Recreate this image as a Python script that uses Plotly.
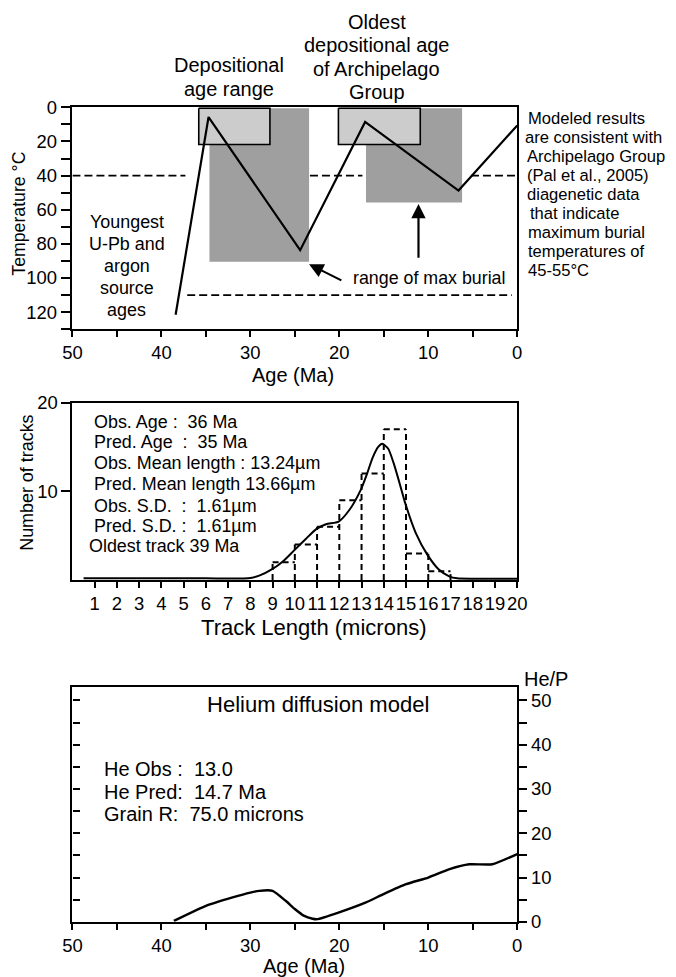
import plotly.graph_objects as go

# The captured picture is a slightly larger page scaled down to 676x977, and the
# body keeps its default 8px margin.  Positions below are in picture pixels and
# are mapped to figure coordinates with this measured transform.
SX, SY = 676 / 695.0, 977 / 997.0
OFF_X, OFF_Y = 10.2, 10.8
W, H = 677, 979
FS = 2 / (SX + SY)
FONT = "Arial, Liberation Sans, sans-serif"

# ---------------- data: thermal history (top panel) ----------------
age_ticks = [50, 45, 40, 35, 30, 25, 20, 15, 10, 5, 0]
age_ticklabels = ["50", "", "40", "", "30", "", "20", "", "10", "", "0"]
temp_ticks = [0, 10, 20, 30, 40, 50, 60, 70, 80, 90, 100, 110, 120, 130]
temp_ticklabels = ["0", "", "20", "", "40", "", "60", "", "80", "", "100", "", "120", ""]

dep_box_age = [35.8, 27.8]
dep_box_temp = [0.5, 21.8]
old_box_age = [20.1, 10.9]
old_box_temp = [0.5, 21.8]
burial1_age = [34.6, 23.4]
burial1_temp = [0.5, 90.4]
burial2_age = [17.0, 6.2]
burial2_temp = [0.5, 55.7]

path_age = [38.4, 34.7, 24.4, 17.1, 6.6, 0.0]
path_temp = [121.5, 5.7, 83.7, 8.6, 48.8, 10.6]

dash40_segments = [[50.0, 37.3], [23.3, 17.4], [5.2, 0.0]]
dash40_temp = 40
dash110_segment = [37.1, 0.6]
dash110_temp = 110

# ---------------- data: track length histogram (middle panel) ----------------
bin_left = [9, 10, 11, 12, 13, 14, 15, 16]
bin_counts = [2, 4, 6, 9, 12, 17, 3, 1]
len_ticks = list(range(1, 21))
len_ticklabels = [str(v) for v in len_ticks]
count_ticks = [10, 20]
count_ticklabels = ["10", "20"]

pred_len = [0.5, 2, 4, 6, 7.9, 8.4, 9.0, 9.46, 9.97, 10.48, 10.96, 11.4, 11.97,
            12.45, 12.97, 13.25, 13.5, 13.75, 13.93, 14.2, 14.44, 14.7, 14.96,
            15.44, 15.95, 16.45, 16.94, 17.3, 18, 19, 20]
pred_count = [0.2, 0.2, 0.2, 0.2, 0.2, 0.5, 1.26, 2.1, 3.35, 4.6, 5.75, 6.3, 6.6,
              7.9, 10.2, 12.0, 13.8, 15.0, 15.35, 14.8, 13.2, 11.0, 8.7,
              5.3, 2.9, 1.26, 0.43, 0.2, 0.15, 0.15, 0.15]

# ---------------- data: helium diffusion (bottom panel) ----------------
he_age = [38.6, 35.0, 32.0, 30.0, 29.0, 27.5, 26.0, 25.0, 24.0, 23.0, 22.5,
          20.1, 17.0, 15.1, 12.5, 10.0, 7.6, 5.4, 2.8, 0.0]
he_val = [0.2, 3.6, 5.5, 6.6, 7.0, 7.0, 4.7, 2.9, 1.4, 0.7, 0.6,
          2.1, 4.4, 6.2, 8.5, 10.0, 11.9, 13.0, 13.0, 15.3]
hep_ticks = [0, 5, 10, 15, 20, 25, 30, 35, 40, 45, 50]
hep_ticklabels = ["0", "", "10", "", "20", "", "30", "", "40", "", "50"]

# ---------------- layout geometry (picture pixels -> paper) ----------------
def px(t):
    return (t / SX - OFF_X) / W
def py(t):
    return 1 - (t / SY - OFF_Y) / H
def sz(v):
    return v * FS

XDOM = [px(72.5), px(518.3)]
def ydom(top_px, bot_px):
    return [py(bot_px), py(top_px)]

fig = go.Figure()

def box(ages, temps, fill, lw, lc):
    fig.add_trace(go.Scatter(
        x=[ages[0], ages[1], ages[1], ages[0], ages[0]],
        y=[temps[0], temps[0], temps[1], temps[1], temps[0]],
        mode="lines", fill="toself", fillcolor=fill,
        line=dict(color=lc, width=lw), xaxis="x", yaxis="y",
        hoverinfo="skip", showlegend=False))

DARK = "#9e9f9e"
LIGHT = "#cbcccb"
box(burial1_age, burial1_temp, DARK, 0, DARK)
box(burial2_age, burial2_temp, DARK, 0, DARK)
box(dep_box_age, dep_box_temp, LIGHT, 1.6, "black")
box(old_box_age, old_box_temp, LIGHT, 1.6, "black")

DASH_TOP = dict(color="black", width=1.6, dash="8px,4px")
for seg in dash40_segments:
    fig.add_trace(go.Scatter(x=seg, y=[dash40_temp, dash40_temp], mode="lines", line=DASH_TOP,
                             xaxis="x", yaxis="y", showlegend=False, hoverinfo="skip"))
fig.add_trace(go.Scatter(x=dash110_segment, y=[dash110_temp, dash110_temp], mode="lines",
                         line=DASH_TOP, xaxis="x", yaxis="y", showlegend=False, hoverinfo="skip"))

fig.add_trace(go.Scatter(x=path_age, y=path_temp, mode="lines",
                         line=dict(color="black", width=2.2),
                         xaxis="x", yaxis="y", showlegend=False))

# histogram outlines (dashed): tops and shared vertical edges drawn once
DASH_H = dict(color="black", width=2, dash="6px,4px")
edges = bin_left + [bin_left[-1] + 1]
for i, e in enumerate(edges):
    left_h = bin_counts[i - 1] if i > 0 else 0
    right_h = bin_counts[i] if i < len(bin_counts) else 0
    fig.add_trace(go.Scatter(x=[e, e], y=[0, max(left_h, right_h)], mode="lines", line=DASH_H,
                             xaxis="x2", yaxis="y2", showlegend=False, hoverinfo="skip"))
for left, c in zip(bin_left, bin_counts):
    fig.add_trace(go.Scatter(x=[left, left + 1], y=[c, c], mode="lines", line=DASH_H,
                             xaxis="x2", yaxis="y2", showlegend=False, hoverinfo="skip"))
fig.add_trace(go.Scatter(x=pred_len, y=pred_count, mode="lines",
                         line=dict(color="black", width=2, shape="spline", smoothing=0.6),
                         xaxis="x2", yaxis="y2", showlegend=False))

# helium
fig.add_trace(go.Scatter(x=he_age, y=he_val, mode="lines",
                         line=dict(color="black", width=2.4, shape="spline", smoothing=0.5),
                         xaxis="x3", yaxis="y3", showlegend=False))
fig.add_trace(go.Scatter(x=he_age, y=he_val, mode="lines", opacity=0,
                         line=dict(color="black", width=0),
                         xaxis="x3", yaxis="y4", showlegend=False, hoverinfo="skip"))

tickfont = dict(family=FONT, size=sz(18), color="black")
common = dict(showgrid=False, zeroline=False, showline=True, linecolor="black",
              tickcolor="black", tickfont=tickfont, tickangle=0)

fig.update_layout(
    width=W, height=H, autosize=False,
    margin=dict(l=0, r=0, t=0, b=0, pad=0),
    paper_bgcolor="white", plot_bgcolor="white",
    showlegend=False,
    xaxis=dict(domain=XDOM, anchor="y", range=[50, 0], tickmode="array",
               tickvals=age_ticks, ticktext=age_ticklabels, ticks="outside",
               ticklen=6, tickwidth=1.6, linewidth=1.6, mirror=True, **common),
    yaxis=dict(domain=ydom(107, 329.3), anchor="x", range=[130, 0], tickmode="array",
               tickvals=temp_ticks, ticktext=temp_ticklabels, ticks="outside",
               ticklen=10, tickwidth=1.6, linewidth=1.6, mirror=True, **common),
    xaxis2=dict(domain=XDOM, anchor="y2", range=[0, 20], tickmode="array",
                tickvals=len_ticks, ticktext=len_ticklabels, ticks="outside",
                ticklen=6, tickwidth=2, linewidth=2.2, mirror=True, **common),
    yaxis2=dict(domain=ydom(402.7, 580.5), anchor="x2", range=[0, 20], tickmode="array",
                tickvals=count_ticks, ticktext=count_ticklabels, ticks="outside",
                ticklen=9, tickwidth=2, linewidth=2.2, mirror=True, **common),
    xaxis3=dict(domain=XDOM, anchor="y3", range=[50, 0], tickmode="array",
                tickvals=age_ticks, ticktext=age_ticklabels, ticks="outside",
                ticklen=6, tickwidth=2, linewidth=2.2, mirror=True, **common),
    yaxis3=dict(domain=ydom(687.7, 922.7), anchor="x3", range=[0, 53], tickmode="array",
                tickvals=hep_ticks, showticklabels=False, ticks="inside",
                ticklen=7, tickwidth=2, linewidth=2.2, **common),
    yaxis4=dict(overlaying="y3", anchor="x3", side="right", range=[0, 53], tickmode="array",
                tickvals=hep_ticks, ticktext=hep_ticklabels, ticks="outside",
                ticklen=8, tickwidth=2, linewidth=2.2, **common),
)

ann = []
def txt(s, xpx, ypx, size, xanchor="center", angle=0):
    ann.append(dict(text=s, x=px(xpx), y=py(ypx), xref="paper", yref="paper",
                    xanchor=xanchor, yanchor="middle", showarrow=False, textangle=angle,
                    font=dict(family=FONT, size=sz(size), color="black")))

NB = "\u00a0"
# top panel texts
txt("Depositional", 229, 65, 19.5)
txt("age range", 229, 88.3, 19.5)
for i, s in enumerate(["Oldest", "depositional age", "of Archipelago", "Group"]):
    txt(s, 377.5, 21.7 + 23.3 * i, 19.5)
for i, s in enumerate(["Youngest", "U-Pb and", "argon", "source", "ages"]):
    txt(s, 126.7, 222 + 22 * i, 17.5)
right_lines = ["Modeled results", "are consistent with", "Archipelago Group",
               "(Pal et al., 2005)", "diagenetic data", "that indicate",
               "maximum burial", "temperatures of", "45-55°C"]
right_x = [527, 524, 526, 526.5, 526.5, 529, 527.5, 527.5, 527.5]
for i, s in enumerate(right_lines):
    txt(s, right_x[i], 118.5 + 19 * i, 16.2, xanchor="left")
txt("range of max burial", 351.7, 278.3, 17.4, xanchor="left")
txt("Temperature" + NB + "°C", 19, 213.5, 17.3, angle=-90)
txt("Age (Ma)", 293.5, 375, 19.5)

# middle panel texts
mid_lines = ["Obs. Age :" + NB * 2 + "36 Ma", "Pred. Age" + NB * 2 + ":" + NB * 2 + "35 Ma",
             "Obs. Mean length : 13.24µm", "Pred. Mean length 13.66µm",
             "Obs. S.D." + NB * 2 + ":" + NB * 2 + "1.61µm", "Pred. S.D. :" + NB * 2 + "1.61µm",
             "Oldest track 39 Ma"]
mid_y = [421.7, 442.3, 463.3, 484, 506, 526.7, 546.7]
mid_x = [91.7, 91.7, 91.7, 91.7, 91.7, 91.7, 87.3]
for s, xx, yy in zip(mid_lines, mid_x, mid_y):
    txt(s, xx, yy, 17.5, xanchor="left")
txt("Number of tracks", 26.7, 483.3, 17.5, angle=-90)
txt("Track Length (microns)", 315, 628.3, 21.5)

# bottom panel texts
txt("Helium diffusion model", 319, 705, 21.5)
he_lines = ["He Obs :" + NB * 2 + "13.0", "He Pred:" + NB * 2 + "14.7 Ma",
            "Grain R:" + NB * 2 + "75.0 microns"]
for i, s in enumerate(he_lines):
    txt(s, 102.3, 770 + 22.2 * i, 19.5, xanchor="left")
txt("He/P", 522.7, 680, 19.5, xanchor="left")
txt("Age (Ma)", 305, 966.5, 19.5)

# arrows (data coords of top panel)
ann.append(dict(x=23.4, y=91.9, ax=19.6, ay=101.8, xref="x", yref="y", axref="x", ayref="y",
                text="", showarrow=True, arrowhead=2, arrowsize=1.3, arrowwidth=2.2,
                arrowcolor="black", standoff=0))
ann.append(dict(x=11.1, y=56.6, ax=11.1, ay=89.0, xref="x", yref="y", axref="x", ayref="y",
                text="", showarrow=True, arrowhead=2, arrowsize=1.3, arrowwidth=2.2,
                arrowcolor="black", standoff=0))

fig.update_layout(annotations=ann)
fig.write_html("out.html")
